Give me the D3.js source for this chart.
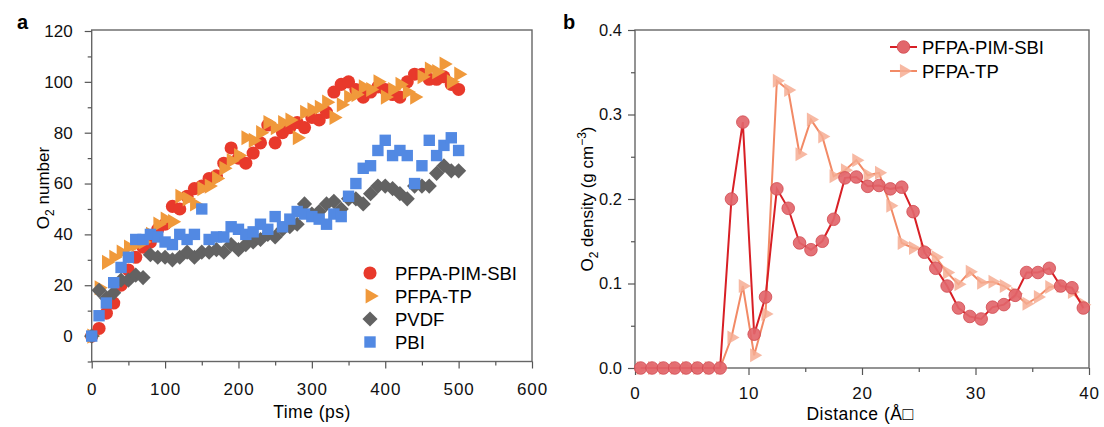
<!DOCTYPE html>
<meta charset="utf-8">
<html>
<head>
  <title>O2 number and density</title>
  <style>
    body { margin: 0; background: #fff; }
    svg { display: block; font-family: "Liberation Sans", Arial, sans-serif; }
    .frame { fill: none; stroke: #666; stroke-width: 1.4px; }
    .axis path { display: none; }
    .axis line { stroke: #555; stroke-width: 1.2px; }
    .axis text { font-size: 17px; fill: #111; }
    .xax text { letter-spacing: 0.9px; }
  </style>
  <script src="https://d3js.org/d3.v7.min.js"></script>
</head>
<body>
  <svg width="1104" height="427"></svg>
  <script>
    // ---- panel a data (time in ps, O2 count) ----
    var times = [0, 10, 20, 30, 40, 50, 60, 70, 80, 90, 100, 110, 120, 130, 140, 150, 160, 170, 180, 190,
      200, 210, 220, 230, 240, 250, 260, 270, 280, 290, 300, 310, 320, 330, 340, 350, 360, 370, 380, 390,
      400, 410, 420, 430, 440, 450, 460, 470, 480, 490, 500];
    var pimSbi = [0, 3, 9, 13, 20, 26, 31, 35, 37, 42, 44, 51, 50, 55, 58, 59, 62, 63, 68, 74,
      70, 68, 72, 76, 83, 76, 80, 82, 84, 82, 86, 85, 88, 96, 99, 100, 97, 94, 96, 98,
      97, 95, 94, 100, 103, 103, 101, 101, 102, 99, 97];
    var tp = [0, 19, 29, 31, 33, 35, 36, 37, 40, 44, 46, 45, 55, 54, 52, 58, 59, 62, 66, 69,
      71, 78, 77, 80, 84, 82, 84, 85, 78, 88, 89, 90, 92, 86, 91, 94, 95, 98, 97, 100,
      94, 97, 99, 96, 94, 102, 105, 104, 107, 100, 103];
    var pvdf = [0, 18, 15, 17, 22, 22, 24, 23, 32, 31, 31, 30, 31, 33, 31, 33, 33, 34, 33, 36,
      34, 36, 37, 38, 40, 39, 42, 43, 44, 52, 48, 49, 52, 53, 50, 54, 54, 52, 56, 59,
      59, 58, 56, 54, 59, 59, 59, 64, 67, 65, 65];
    var pbi = [0, 8, 13, 21, 27, 31, 38, 38, 40, 39, 37, 36, 40, 38, 40, 50, 38, 39, 39, 43,
      42, 40, 41, 44, 42, 47, 43, 46, 49, 48, 47, 46, 44, 48, 47, 55, 60, 66, 67, 73,
      77, 71, 73, 71, 60, 67, 77, 71, 75, 78, 73];

    // ---- panel b data (distance in angstrom, density g cm-3) ----
    var distance = [0.5, 1.5, 2.5, 3.5, 4.5, 5.5, 6.5, 7.5, 8.5, 9.5, 10.5, 11.5, 12.5, 13.5, 14.5, 15.5,
      16.5, 17.5, 18.5, 19.5, 20.5, 21.5, 22.5, 23.5, 24.5, 25.5, 26.5, 27.5, 28.5, 29.5, 30.5, 31.5,
      32.5, 33.5, 34.5, 35.5, 36.5, 37.5, 38.5, 39.5];
    var densSbi = [0, 0, 0, 0, 0, 0, 0, 0, 0.200, 0.291, 0.040, 0.084, 0.212, 0.189, 0.148, 0.140,
      0.150, 0.176, 0.225, 0.226, 0.215, 0.216, 0.212, 0.214, 0.185, 0.137, 0.118, 0.097, 0.071, 0.061,
      0.058, 0.072, 0.075, 0.086, 0.113, 0.113, 0.118, 0.097, 0.095, 0.071];
    var densTp = [0, 0, 0, 0, 0, 0, 0, 0, 0.036, 0.097, 0.015, 0.064, 0.340, 0.329, 0.253, 0.294,
      0.274, 0.227, 0.234, 0.246, 0.228, 0.231, 0.192, 0.148, 0.142, 0.140, 0.131, 0.113, 0.099, 0.114,
      0.101, 0.102, 0.097, 0.088, 0.076, 0.084, 0.096, 0.097, 0.090, 0.075];

    var yTicksA = [0, 20, 40, 60, 80, 100, 120];
    var xTicksA = [0, 100, 200, 300, 400, 500, 600];
    var yTicksB = [0, 0.1, 0.2, 0.3, 0.4];
    var xTicksB = [0, 10, 20, 30, 40];

    var svg = d3.select("svg");

    // ---------------- panel a ----------------
    var xa = d3.scaleLinear().domain([0, 600]).range([91.7, 532]);
    var ya = d3.scaleLinear().domain([-10, 120]).range([361.5, 31]);
    var ga = svg.append("g");

    ga.append("rect").attr("class", "frame")
      .attr("x", 91.7).attr("y", 30).attr("width", 532 - 91.7).attr("height", 361.5 - 30);

    // minor ticks
    ga.append("g").attr("class", "axis").attr("transform", "translate(91.7,0)")
      .call(d3.axisLeft(ya).tickValues([-10, 10, 30, 50, 70, 90, 110]).tickSize(4).tickFormat(""));
    ga.append("g").attr("class", "axis").attr("transform", "translate(0,361.5)")
      .call(d3.axisBottom(xa).tickValues([50, 150, 250, 350, 450, 550]).tickSize(4).tickFormat(""));
    // major ticks
    ga.append("g").attr("class", "axis").attr("transform", "translate(91.7,0)")
      .call(d3.axisLeft(ya).tickValues(yTicksA).tickSize(7).tickPadding(12));
    ga.append("g").attr("class", "axis xax").attr("transform", "translate(0,361.5)")
      .call(d3.axisBottom(xa).tickValues(xTicksA).tickSize(7).tickPadding(14));

    var colA = { sbi: "#e8392b", tp: "#f0993b", pvdf: "#626262", pbi: "#5289e3" };

    var symCircle = d3.symbol().type(d3.symbolCircle).size(135);
    var symTri = d3.symbol().type(d3.symbolTriangle).size(100);
    var symDia = d3.symbol().type(d3.symbolSquare).size(115);
    var symSq = d3.symbol().type(d3.symbolSquare).size(130);

    function scatter(vals, sym, rot, color) {
      ga.append("g").selectAll("path")
        .data(vals)
        .join("path")
        .attr("d", sym)
        .attr("fill", color)
        .attr("transform", function(d, i) {
          return "translate(" + xa(times[i]) + "," + ya(d) + ") rotate(" + rot + ")";
        });
    }
    scatter(pimSbi, symCircle, 0, colA.sbi);
    scatter(tp, symTri, 90, colA.tp);
    scatter(pvdf, symDia, 45, colA.pvdf);
    scatter(pbi, symSq, 0, colA.pbi);

    // legend a
    var legA = [
      { name: "PFPA-PIM-SBI", sym: symCircle, rot: 0, c: colA.sbi },
      { name: "PFPA-TP", sym: symTri, rot: 90, c: colA.tp },
      { name: "PVDF", sym: symDia, rot: 45, c: colA.pvdf },
      { name: "PBI", sym: symSq, rot: 0, c: colA.pbi }
    ];
    legA.forEach(function(d, i) {
      var yy = 273 + i * 23;
      ga.append("path").attr("d", d.sym).attr("fill", d.c)
        .attr("transform", "translate(370," + yy + ") rotate(" + d.rot + ")");
      ga.append("text").attr("x", 395).attr("y", yy + 6.5)
        .style("font-size", "18.5px").text(d.name);
    });

    // axis titles a
    ga.append("text").attr("x", 312).attr("y", 417.5).attr("text-anchor", "middle")
      .style("font-size", "17.5px").style("letter-spacing", "0.5px").text("Time (ps)");
    var ta = ga.append("text").attr("transform", "translate(49,188) rotate(-90)")
      .attr("text-anchor", "middle").style("font-size", "17px");
    ta.append("tspan").text("O");
    ta.append("tspan").attr("dy", 5).style("font-size", "12px").text("2");
    ta.append("tspan").attr("dy", -5).text(" number");

    svg.append("text").attr("x", 17).attr("y", 29).style("font-size", "20px")
      .style("font-weight", "bold").text("a");

    // ---------------- panel b ----------------
    var xb = d3.scaleLinear().domain([0, 40]).range([635, 1089]);
    var yb = d3.scaleLinear().domain([0, 0.4]).range([368, 30]);
    var gb = svg.append("g");

    gb.append("rect").attr("class", "frame")
      .attr("x", 635).attr("y", 30).attr("width", 1089 - 635).attr("height", 368 - 30);

    gb.append("g").attr("class", "axis").attr("transform", "translate(635,0)")
      .call(d3.axisLeft(yb).tickValues([0.05, 0.15, 0.25, 0.35]).tickSize(4).tickFormat(""));
    gb.append("g").attr("class", "axis").attr("transform", "translate(0,368)")
      .call(d3.axisBottom(xb).tickValues([5, 15, 25, 35]).tickSize(4).tickFormat(""));
    gb.append("g").attr("class", "axis").attr("transform", "translate(635,0)")
      .call(d3.axisLeft(yb).tickValues(yTicksB).tickSize(7).tickPadding(6).tickFormat(d3.format(".1f")))
      .selectAll("text").style("font-size", "16.5px");
    gb.append("g").attr("class", "axis xax").attr("transform", "translate(0,368)")
      .call(d3.axisBottom(xb).tickValues(xTicksB).tickSize(7).tickPadding(12));

    var colB = { sbiLine: "#d81f25", sbiFill: "#e2666b", sbiStroke: "#d24a50",
                 tpLine: "#f28a66", tpFill: "#f6ad93" };

    var lineB = d3.line()
      .x(function(d, i) { return xb(distance[i]); })
      .y(function(d) { return yb(d); });

    var symTriB = d3.symbol().type(d3.symbolTriangle).size(85);
    var symCircB = d3.symbol().type(d3.symbolCircle).size(125);

    // PFPA-TP first (drawn under)
    gb.append("path").datum(densTp).attr("d", lineB)
      .attr("fill", "none").attr("stroke", colB.tpLine).attr("stroke-width", 2);
    gb.append("g").selectAll("path").data(densTp).join("path")
      .attr("d", symTriB).attr("fill", colB.tpFill).attr("fill-opacity", 0.85)
      .attr("transform", function(d, i) {
        return "translate(" + xb(distance[i]) + "," + yb(d) + ") rotate(90)";
      });

    gb.append("path").datum(densSbi).attr("d", lineB)
      .attr("fill", "none").attr("stroke", colB.sbiLine).attr("stroke-width", 2);
    gb.append("g").selectAll("path").data(densSbi).join("path")
      .attr("d", symCircB).attr("fill", colB.sbiFill).attr("fill-opacity", 0.92)
      .attr("stroke", colB.sbiStroke).attr("stroke-width", 0.8)
      .attr("transform", function(d, i) {
        return "translate(" + xb(distance[i]) + "," + yb(d) + ")";
      });

    // legend b
    var legB = [
      { name: "PFPA-PIM-SBI", line: colB.sbiLine, y: 47 },
      { name: "PFPA-TP", line: colB.tpLine, y: 71 }
    ];
    legB.forEach(function(d, i) {
      gb.append("line").attr("x1", 890).attr("x2", 917).attr("y1", d.y).attr("y2", d.y)
        .attr("stroke", d.line).attr("stroke-width", 2);
      if (i === 0) {
        gb.append("path").attr("d", symCircB).attr("fill", colB.sbiFill)
          .attr("stroke", colB.sbiStroke).attr("stroke-width", 0.8)
          .attr("transform", "translate(903.5," + d.y + ")");
      } else {
        gb.append("path").attr("d", symTriB).attr("fill", colB.tpFill).attr("fill-opacity", 0.85)
          .attr("transform", "translate(904," + d.y + ") rotate(90)");
      }
      gb.append("text").attr("x", 922).attr("y", d.y + 6.5)
        .style("font-size", "18.5px").text(d.name);
    });

    // axis titles b
    gb.append("text").attr("x", 860).attr("y", 419.5).attr("text-anchor", "middle")
      .style("font-size", "17.5px").style("letter-spacing", "0.5px").text("Distance (\u00C5\u25A1");
    var tb = gb.append("text").attr("transform", "translate(593,199) rotate(-90)")
      .attr("text-anchor", "middle").style("font-size", "17px");
    tb.append("tspan").text("O");
    tb.append("tspan").attr("dy", 5).style("font-size", "12px").text("2");
    tb.append("tspan").attr("dy", -5).text(" density (g cm");
    tb.append("tspan").attr("dy", -7).style("font-size", "12px").text("\u22123");
    tb.append("tspan").attr("dy", 7).text(")");

    svg.append("text").attr("x", 563).attr("y", 29).style("font-size", "20px")
      .style("font-weight", "bold").text("b");
  </script>
</body>
</html>
